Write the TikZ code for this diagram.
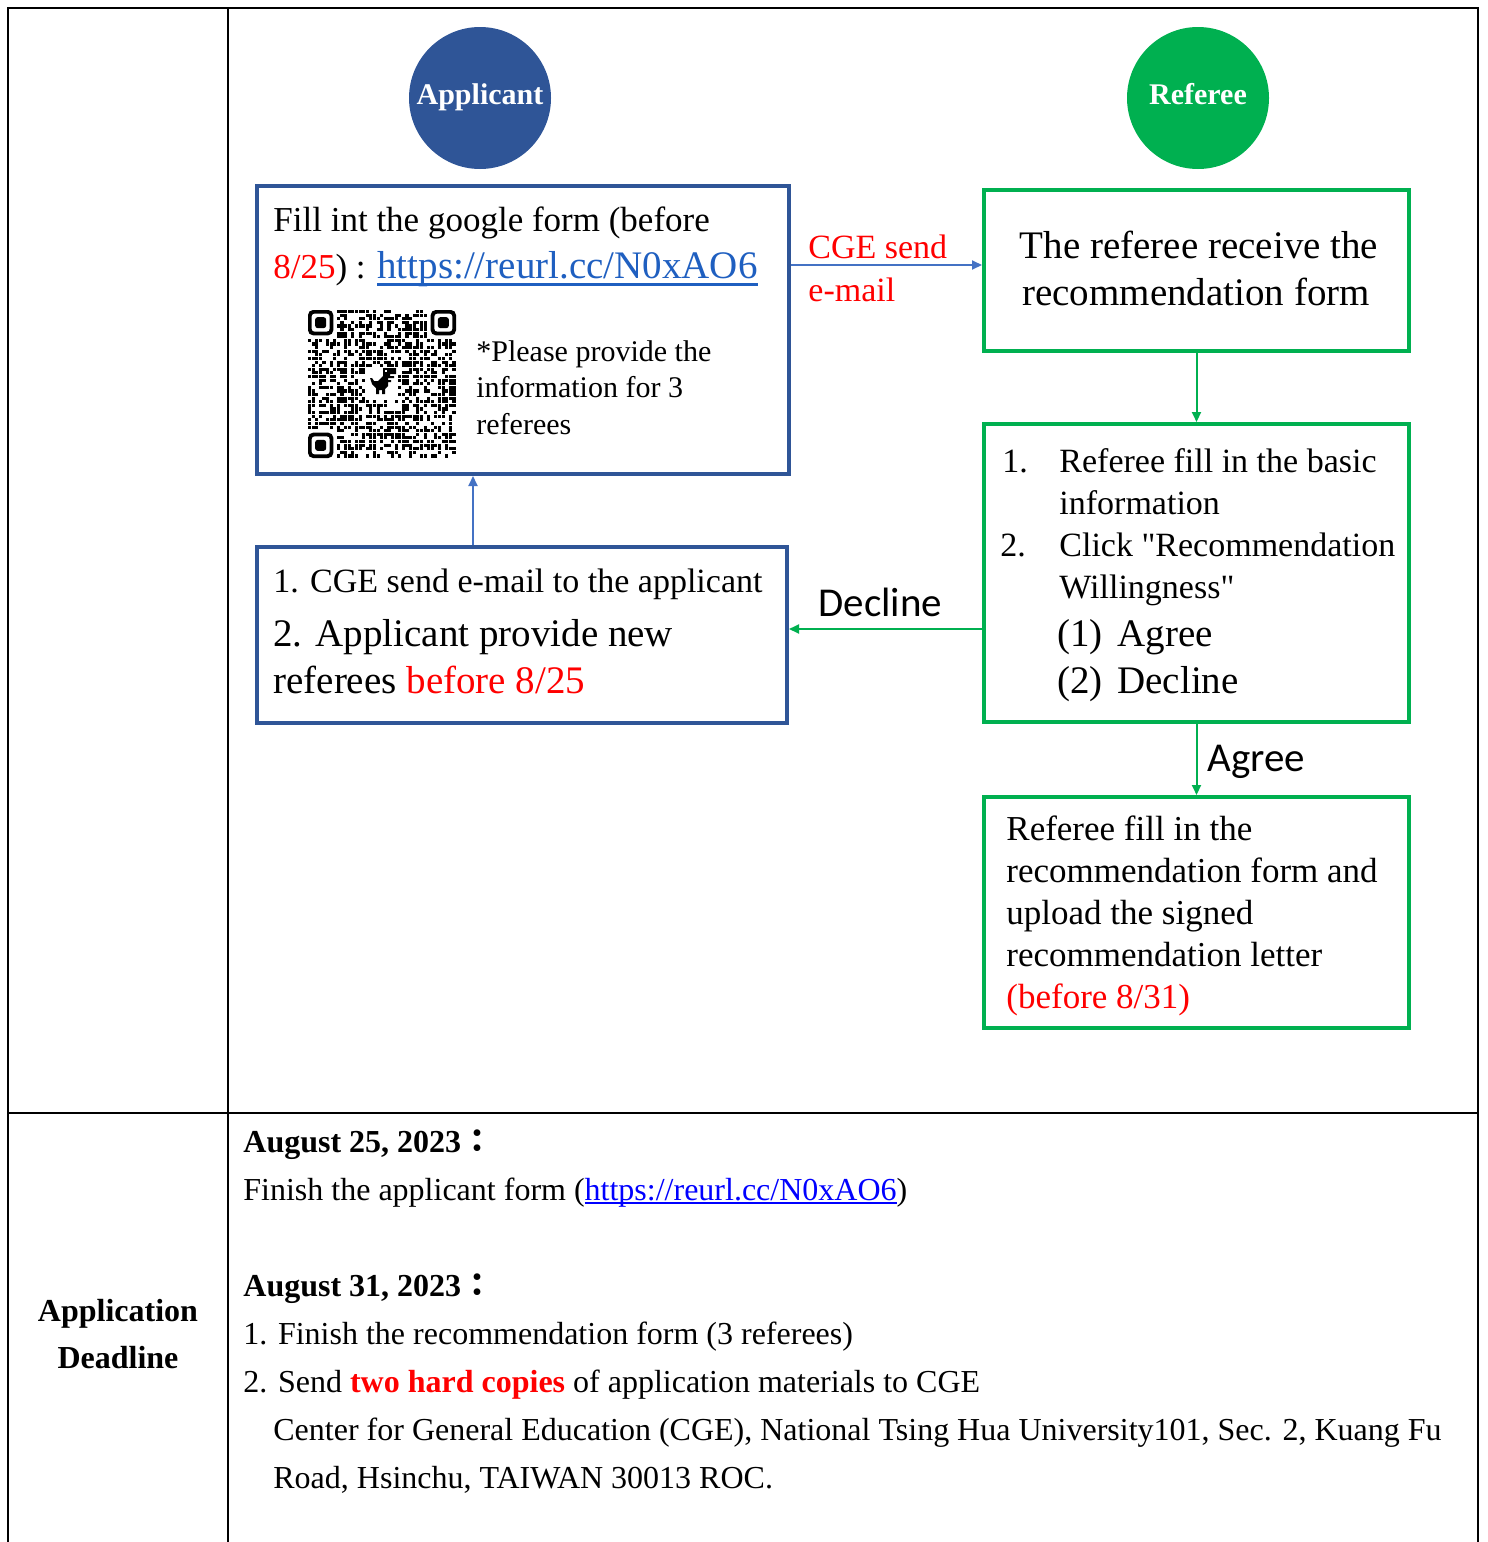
\documentclass[tikz,border=0pt]{standalone}
\usepackage{fontspec}
\setmainfont{Liberation Serif}
\newfontfamily\rawserif{Liberation Serif}
\newfontfamily\calfont{Carlito}
\newfontfamily\cjkfont{Noto Sans CJK TC}
\usetikzlibrary{arrows.meta,fit}
\definecolor{appblue}{HTML}{2F5597}
\definecolor{arrblue}{HTML}{4472C4}
\definecolor{refgreen}{HTML}{00B050}
\definecolor{linkblue}{HTML}{1F5FC0}
\definecolor{purelink}{HTML}{0000FF}
\newcommand\setfs[1]{\fontsize{#1}{#1}\selectfont}
\newcommand\myul[2]{\setbox0\hbox{#2}\rlap{\rule[#1]{\wd0}{0.065em}}\box0}
\newcommand\sq{{\rawserif"}}
\begin{document}
\begin{tikzpicture}[x=0.5pt,y=-0.5pt,
  tline/.style={line width=1.4pt,draw=black},
  bluebox/.style={draw=appblue,line width=2pt,inner sep=0pt},
  greenbox/.style={draw=refgreen,line width=2pt,inner sep=0pt},
  txt/.style={inner sep=0pt,anchor=base west},
  ctxt/.style={inner sep=0pt,anchor=base},
  role/.style={circle,minimum size=71pt,inner sep=0pt,text height=0.82em,text depth=0.18em,font=\bfseries\setfs{15},text=white},
  barrow/.style={draw=arrblue,line width=1pt,-{Triangle[length=5pt,width=4.5pt]}},
  garrow/.style={draw=refgreen,line width=1pt,-{Triangle[length=5pt,width=4.5pt]}},
  qrmod/.style={fill=black}]
\useasboundingbox (0,0) rectangle (1488,1542);
% table frame
\draw[tline] (8,1542) -- (8,8) -- (1478,8) -- (1478,1542);
\draw[tline] (228,8) -- (228,1542);
\draw[tline] (8,1113) -- (1478,1113);

% circles
\node[role,fill=appblue] (app) at (480,98) {Applicant};
\node[role,fill=refgreen] (ref) at (1198,98) {Referee};

% boxes
\node[bluebox,fit={(257,186) (789,474)}] (b1) {};
\node[greenbox,fit={(984,190) (1409,351)}] (b2) {};
\node[greenbox,fit={(984,424) (1409,722)}] (b3) {};
\node[bluebox,fit={(257,547) (787,723)}] (b4) {};
\node[greenbox,fit={(984,797) (1409,1028)}] (b5) {};

% box 1 text
\node[txt] (t1a) at (273,231) {\setfs{17.5}Fill int the google form (before};
\node[txt] (t1b) at (273,278) {\setfs{17.5}\textcolor{red}{8/25}) : \setfs{19.5}\color{linkblue}\myul{-0.2em}{https://reurl.cc/N0xAO6}};
\node[txt] (t1c) at (476,361) {\setfs{15}*Please provide the};
\node[txt] (t1d) at (476,397) {\setfs{15}information for 3};
\node[txt] (t1e) at (476,434) {\setfs{15}referees};

% QR code
\pgfmathsetseed{4242}
\foreach \i in {0,...,40}{
  \foreach \j in {0,...,40}{
    \pgfmathtruncatemacro{\qsk}{((\i<8)&&(\j<8))||((\i>32)&&(\j<8))||((\i<8)&&(\j>32))||((\i>15)&&(\i<25)&&(\j>15)&&(\j<25))}
    \pgfmathrandominteger{\qr}{0}{99}
    \ifnum\qsk=0 \ifnum\qr<56
      \fill[qrmod] ({308+\i*3.61},{310+\j*3.61}) rectangle ++(3.1,3.1);
    \fi\fi
  }
}
\foreach \fx/\fy in {308/310, 430.7/310, 308/432.7}{
  \fill[rounded corners=2.5pt] (\fx,\fy) rectangle ++(25.3,25.3);
  \fill[white,rounded corners=1.6pt] ({\fx+3.6},{\fy+3.6}) rectangle ++(18.1,18.1);
  \fill[rounded corners=1.2pt] ({\fx+7.2},{\fy+7.2}) rectangle ++(10.9,10.9);
}
\begin{scope}[shift={(370,368)}]
\fill (13,0) -- (26,0) -- (26,6) -- (20,6) -- (20,8) -- (24,8) -- (24,10) -- (18,10) -- (18,12) -- (21,12) -- (21,14) -- (18,14) -- (18,18) -- (15,21) -- (15,26) -- (12,26) -- (12,22) -- (9,22) -- (9,26) -- (6,26) -- (6,20) -- (2,16) -- (0,10) -- (2,10) -- (4,13) -- (8,13) -- (13,8) -- cycle;
\fill[white] (15,2) rectangle (17,4);
\end{scope}

% box 2 text
\node[ctxt] (t2a) at (1199,258) {\setfs{19.5}The referee receive the};
\node[ctxt] (t2b) at (1196,305) {\setfs{19.5}recommendation form};

% box 3 text
\node[txt] (n31) at (1002,472) {\setfs{17}1.};
\node[txt] (t3a) at (1059,472) {\setfs{17}Referee fill in the basic};
\node[txt] (t3b) at (1059,514) {\setfs{17}information};
\node[txt] (n32) at (1000,556) {\setfs{17}2.};
\node[txt] (t3c) at (1059,556) {\setfs{17}Click \sq Recommendation};
\node[txt] (t3d) at (1059,598) {\setfs{17}Willingness\sq};
\node[txt] (n33) at (1057,646) {\setfs{19.5}(1)};
\node[txt] (t3e) at (1117,646) {\setfs{19.5}Agree};
\node[txt] (n34) at (1057,693) {\setfs{19.5}(2)};
\node[txt] (t3f) at (1117,693) {\setfs{19.5}Decline};

% box 4 text
\node[txt] (t4a) at (273,592) {\setfs{17}1. CGE send e-mail to the applicant};
\node[txt] (t4b) at (273,646) {\setfs{19.5}2. Applicant provide new};
\node[txt] (t4c) at (273,693) {\setfs{19.5}referees \textcolor{red}{before 8/25}};

% box 5 text
\node[txt] (t5a) at (1006,840) {\setfs{17.5}Referee fill in the};
\node[txt] (t5b) at (1006,882) {\setfs{17.5}recommendation form and};
\node[txt] (t5c) at (1006,924) {\setfs{17.5}upload the signed};
\node[txt] (t5d) at (1006,966) {\setfs{17.5}recommendation letter};
\node[txt] (t5e) at (1006,1008) {\setfs{17.5}\textcolor{red}{(before 8/31)}};

% connectors
\coordinate (ya) at (0,265);
\coordinate (yb) at (0,629);
\coordinate (xa) at (473,0);
\draw[barrow] (b1.east |- ya) -- (b2.west |- ya);
\draw[garrow] (b2.south) -- (b3.north);
\draw[garrow] (b3.west |- yb) -- (b4.east |- yb);
\draw[garrow] (b3.south) -- (b5.north);
\draw[barrow] (b4.north -| xa) -- (b1.south -| xa);

% connector labels
\node[txt,text=red] (l1) at (808,258) {\setfs{17}CGE send};
\node[txt,text=red] (l2) at (808,301) {\setfs{17}e-mail};
\node[txt] (l3) at (818,616) {\calfont\setfs{20.5}Decline};
\node[txt] (l4) at (1207,771) {\calfont\setfs{20.5}Agree};

% bottom row
\node[ctxt] (d1) at (118,1321) {\bfseries\setfs{16}Application};
\node[ctxt] (d2) at (118,1368) {\bfseries\setfs{16}Deadline};
\node[txt] (r1) at (243,1152) {\setfs{16}\textbf{August 25, 2023}{\cjkfont\bfseries ：}};
\node[txt] (r2) at (243,1200) {\setfs{16}Finish the applicant form (\textcolor{purelink}{\myul{-0.12em}{https://reurl.cc/N0xAO6}})};
\node[txt] (r3) at (243,1296) {\setfs{16}\textbf{August 31, 2023}{\cjkfont\bfseries ：}};
\node[txt] (r4) at (243,1344) {\setfs{16}1. Finish the recommendation form (3 referees)};
\node[txt] (r5) at (243,1392) {\setfs{16}2. Send \textbf{\textcolor{red}{two hard copies}} of application materials to CGE};
\node[txt] (r6) at (273,1440) {\setfs{16}Center for General Education (CGE), National Tsing Hua University101, Sec. 2, Kuang Fu};
\node[txt] (r7) at (273,1488) {\setfs{16}Road, Hsinchu, TAIWAN 30013 ROC.};
\end{tikzpicture}
\end{document}
